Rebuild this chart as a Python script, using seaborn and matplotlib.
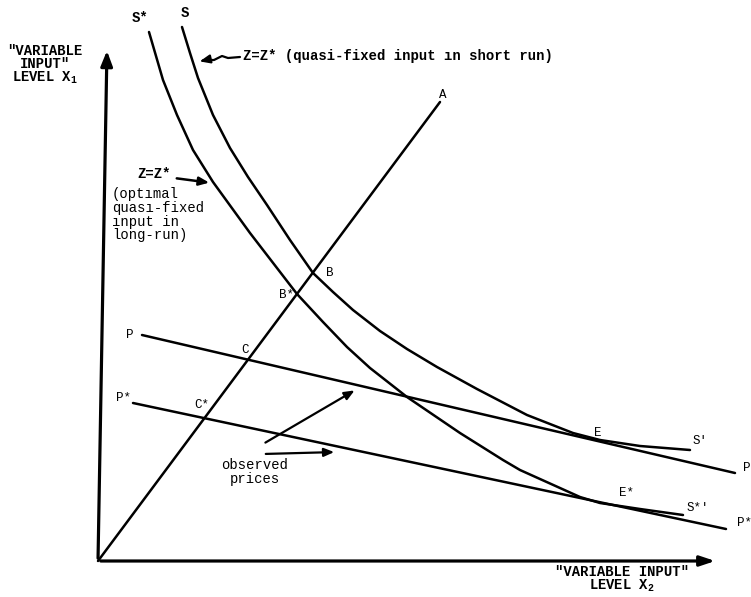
import numpy as np
import pandas as pd
import matplotlib
matplotlib.use('Agg')
import matplotlib.pyplot as plt
import seaborn as sns

# points, origin at the corner of the axes
# S : short-run curve (Z = Z*)
s_x2 = [84, 92, 100, 115, 132, 150, 169, 192, 215, 235, 255, 282, 309, 339, 379, 429, 475, 502, 542, 592]
s_x1 = [534, 508, 483, 446, 413, 384, 356, 321, 288, 269, 251, 230, 212, 194, 172, 146, 128, 121, 115, 111]

# S* : long-run curve (optimal quasi-fixed input)
ss_x2 = [51, 58, 65, 79, 95, 115, 152, 199, 225, 249, 272, 309, 362, 405, 422, 482, 502, 542, 585]
ss_x1 = [529, 505, 481, 446, 411, 379, 328, 267, 239, 214, 193, 164, 128, 101, 91, 64, 58, 52, 46]

# price lines and the ray OA
p_x2 = [44, 637]
p_x1 = [226, 88]
pstar_x2 = [35, 628]
pstar_x1 = [158, 32]
ray_x2 = [0, 342]
ray_x1 = [0, 459]

sns.set_style('white')
plt.rcParams['font.family'] = ['Liberation Mono', 'DejaVu Sans Mono']

fig = plt.figure(figsize=(7.51, 5.97), dpi=100)
ax = fig.add_axes([0, 0, 1, 1])

lw = 1.8
for xs, ys in [(s_x2, s_x1), (ss_x2, ss_x1), (p_x2, p_x1), (pstar_x2, pstar_x1), (ray_x2, ray_x1)]:
    sns.lineplot(x=xs, y=ys, sort=False, estimator=None, color='black', linewidth=lw, ax=ax)

# axes drawn by hand, with arrow heads
ax.annotate('', xy=(9, 513), xytext=(0, 0),
            arrowprops=dict(arrowstyle='-|>,head_length=0.9,head_width=0.35', color='black', lw=2.3))
ax.annotate('', xy=(620, 0), xytext=(0, 0),
            arrowprops=dict(arrowstyle='-|>,head_length=0.9,head_width=0.3', color='black', lw=2.3))

fs = 10
bold = dict(fontsize=fs, color='black', fontweight='bold')
axl = dict(fontsize=10, color='black', fontweight='bold')
small = dict(fontsize=9, color='black')

ax.text(-53, 510, '"VARIABLE', ha='center', va='center', **axl)
ax.text(-53, 497, 'INPUT"', ha='center', va='center', **axl)
ax.text(-53, 483, r'LEVEL X$_\mathregular{1}$', ha='center', va='center', **axl)
ax.text(524, -11, '"VARIABLE INPUT"', ha='center', va='center', **axl)
ax.text(524, -25, r'LEVEL X$_\mathregular{2}$', ha='center', va='center', **axl)

ax.text(87, 548, 'S', ha='center', va='center', **bold)
ax.text(42, 543, 'S*', ha='center', va='center', **bold)
ax.text(345, 466, 'A', ha='center', va='center', **small)
ax.text(232, 288, 'B', ha='center', va='center', **small)
ax.text(189, 266, 'B*', ha='center', va='center', **small)
ax.text(147, 211, 'C', ha='center', va='center', **small)
ax.text(104, 156, 'C*', ha='center', va='center', **small)
ax.text(32, 226, 'P', ha='center', va='center', **small)
ax.text(25, 163, 'P*', ha='center', va='center', **small)
ax.text(500, 128, 'E', ha='center', va='center', **small)
ax.text(529, 68, 'E*', ha='center', va='center', **small)
ax.text(602, 120, "S'", ha='center', va='center', **small)
ax.text(600, 53, "S*'", ha='center', va='center', **small)
ax.text(649, 93, 'P', ha='center', va='center', **small)
ax.text(647, 38, 'P*', ha='center', va='center', **small)

# short-run label with its squiggly arrow
ax.text(145, 505, 'Z=Z* (quasi-fixed input ın short run)', ha='left', va='center', **bold)
ax.plot([142, 130, 124, 116, 108], [504, 503, 505, 501, 501], color='black', lw=1.6)
ax.annotate('', xy=(99, 499), xytext=(108, 501),
            arrowprops=dict(arrowstyle='-|>,head_length=0.6,head_width=0.25', color='black', lw=1.6))

# long-run label
ax.text(39, 387, 'Z=Z*', ha='left', va='center', **bold)
ax.annotate('', xy=(114, 378), xytext=(76, 383),
            arrowprops=dict(arrowstyle='-|>,head_length=0.6,head_width=0.25', color='black', lw=1.8))
for yy, line in zip([367, 353, 339, 326], ['(optımal', 'quası-fixed', 'ınput in', 'long-run)']):
    ax.text(14, yy, line, ha='left', va='center', fontsize=fs, color='black')

# observed prices
ax.text(157, 96, 'observed', ha='center', va='center', fontsize=fs, color='black')
ax.text(157, 82, 'prices', ha='center', va='center', fontsize=fs, color='black')
ax.annotate('', xy=(259, 172), xytext=(165, 117),
            arrowprops=dict(arrowstyle='-|>,head_length=0.6,head_width=0.25', color='black', lw=1.6))
ax.annotate('', xy=(239, 109), xytext=(165, 107),
            arrowprops=dict(arrowstyle='-|>,head_length=0.6,head_width=0.25', color='black', lw=1.6))

ax.set_xlim(-98, 653)
ax.set_ylim(-36, 561)
ax.axis('off')

fig.savefig('out.png', dpi=100)
